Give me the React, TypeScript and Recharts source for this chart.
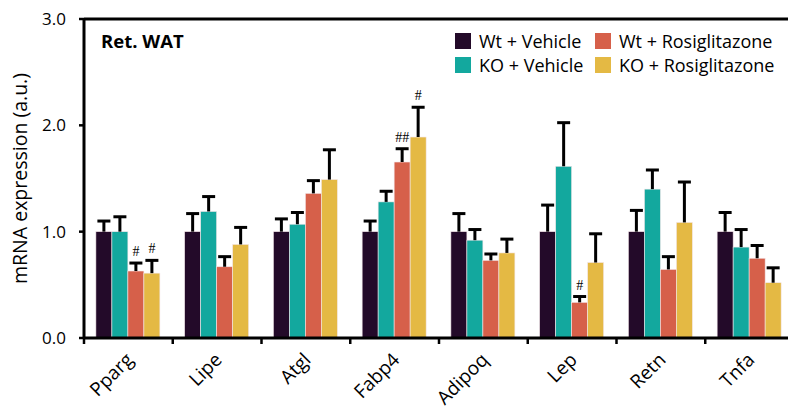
import { BarChart, Bar, XAxis, YAxis, ReferenceLine } from "recharts";

const genes = ["Pparg", "Lipe", "Atgl", "Fabp4", "Adipoq", "Lep", "Retn", "Tnfa"];

const wtVehicle = [1.0, 1.0, 1.0, 1.0, 1.0, 1.0, 1.0, 1.0];
const wtVehicleErr = [0.1, 0.17, 0.12, 0.1, 0.17, 0.25, 0.2, 0.18];
const koVehicle = [1.0, 1.19, 1.07, 1.28, 0.92, 1.615, 1.4, 0.855];
const koVehicleErr = [0.14, 0.14, 0.11, 0.1, 0.1, 0.41, 0.18, 0.165];
const wtRosi = [0.63, 0.67, 1.36, 1.655, 0.73, 0.335, 0.645, 0.75];
const wtRosiErr = [0.075, 0.095, 0.12, 0.125, 0.06, 0.055, 0.12, 0.12];
const koRosi = [0.61, 0.88, 1.49, 1.89, 0.8, 0.71, 1.087, 0.52];
const koRosiErr = [0.12, 0.16, 0.28, 0.28, 0.13, 0.27, 0.38, 0.14];

const noSig = ["", "", "", "", "", "", "", ""];
const wtRosiSig = ["#", "", "", "##", "", "#", "", ""];
const koRosiSig = ["#", "", "", "#", "", "", "", ""];

const yTicks = [0, 1, 2, 3];

const series = [
  { key: "wtVehicle", name: "Wt + Vehicle", color: "#230a29", values: wtVehicle, err: wtVehicleErr, sig: noSig },
  { key: "koVehicle", name: "KO + Vehicle", color: "#13a89e", values: koVehicle, err: koVehicleErr, sig: noSig },
  { key: "wtRosi", name: "Wt + Rosiglitazone", color: "#d6604a", values: wtRosi, err: wtRosiErr, sig: wtRosiSig },
  { key: "koRosi", name: "KO + Rosiglitazone", color: "#e4b944", values: koRosi, err: koRosiErr, sig: koRosiSig },
];

const data = genes.map((gene, i) => {
  const row: Record<string, any> = { gene };
  series.forEach((s) => {
    row[s.key] = s.values[i];
    row[s.key + "Err"] = s.err[i];
    row[s.key + "Sig"] = s.sig[i];
  });
  return row;
});

const FONT = "'Open Sans', sans-serif";
const BAND = 710 / genes.length;

// bar rect + upper-only error bar + significance mark
const makeShape = (key: string) => (props: any) => {
  const { x, y, width, height, fill, payload } = props;
  const v = payload[key];
  const e = payload[key + "Err"];
  const sig = payload[key + "Sig"];
  const cx = x + width / 2;
  const top = y - (e * height) / v;
  return (
    <g>
      <rect x={x} y={y} width={width} height={height} fill={fill} stroke="#f3e6ea" strokeWidth={0.6} />
      <line x1={cx} y1={y} x2={cx} y2={top} stroke="#000" strokeWidth={3} />
      <line x1={cx - 6.5} y1={top} x2={cx + 6.5} y2={top} stroke="#000" strokeWidth={3} />
      {sig ? (
        <text x={cx} y={top - 7} textAnchor="middle" fontSize={14} fontFamily="'Liberation Serif', serif" fill="#000">
          {sig}
        </text>
      ) : null}
    </g>
  );
};

function GeneTick(props: any) {
  const { x, y, payload } = props;
  const lx = x - BAND / 2;
  const tx = x + 6;
  const ty = y + 23;
  return (
    <g>
      <line x1={lx} y1={y} x2={lx} y2={y + 6} stroke="#000" strokeWidth={2.5} />
      <text
        x={tx}
        y={ty}
        textAnchor="end"
        transform={`rotate(-45, ${tx}, ${ty})`}
        fontSize={19}
        fontFamily={FONT}
        fill="#000"
      >
        {payload.value}
      </text>
    </g>
  );
}

function LegendBox() {
  const cols = [
    [series[0], series[1]],
    [series[2], series[3]],
  ];
  return (
    <svg width={340} height={52} style={{ display: "block" }}>
      {cols.map((col, ci) =>
        col.map((s, ri) => (
          <g key={s.key}>
            <rect x={5 + ci * 140} y={5 + ri * 24} width={16} height={16} fill={s.color} />
            <text x={29 + ci * 140} y={20 + ri * 24} fontSize={18} fontFamily={FONT} fill="#000">
              {s.name}
            </text>
          </g>
        ))
      )}
    </svg>
  );
}

export default function App() {
  return (
    <div
      style={{
        position: "fixed",
        left: 0,
        top: 0,
        width: 788,
        height: 411,
        overflow: "hidden",
        background: "#fff",
      }}
    >
      <BarChart
        width={800}
        height={411}
        data={data}
        margin={{ top: 19, right: 6, bottom: 0, left: 0 }}
        barCategoryGap="13.4%"
        barGap={0}
      >
        <XAxis
          dataKey="gene"
          interval={0}
          height={73}
          tickSize={0}
          tickMargin={0}
          tickLine={false}
          axisLine={{ stroke: "#000", strokeWidth: 3 }}
          tick={(p: any) => <GeneTick {...p} />}
        />
        <YAxis
          width={84}
          domain={[0, 3]}
          ticks={yTicks}
          tickFormatter={(v: number) => v.toFixed(1)}
          tickSize={5}
          tickMargin={13}
          axisLine={{ stroke: "#000", strokeWidth: 3 }}
          tickLine={{ stroke: "#000", strokeWidth: 2.5 }}
          tick={{ fill: "#000", fontSize: 17, fontFamily: FONT }}
          label={{
            content: (p: any) => {
              const vb = p.viewBox || {};
              const cy = vb.y + vb.height / 2;
              return (
                <text
                  x={27}
                  y={cy}
                  textAnchor="middle"
                  transform={`rotate(-90, 27, ${cy})`}
                  fontSize={19.5}
                  fontFamily={FONT}
                  fill="#000"
                >
                  mRNA expression (a.u.)
                </text>
              );
            },
          }}
        />
        <ReferenceLine y={3} stroke="#000" strokeWidth={3} />
        {series.map((s) => (
          <Bar
            key={s.key}
            dataKey={s.key}
            name={s.name}
            fill={s.color}
            isAnimationActive={false}
            shape={makeShape(s.key)}
          />
        ))}
      </BarChart>
      <div style={{ position: "absolute", left: 450, top: 28 }}>
        <LegendBox />
      </div>
      <div
        style={{
          position: "absolute",
          left: 101,
          top: 29,
          fontFamily: FONT,
          fontWeight: 700,
          fontSize: 18.5,
          lineHeight: "24px",
          color: "#000",
          whiteSpace: "nowrap",
        }}
      >
        Ret. WAT
      </div>
    </div>
  );
}
